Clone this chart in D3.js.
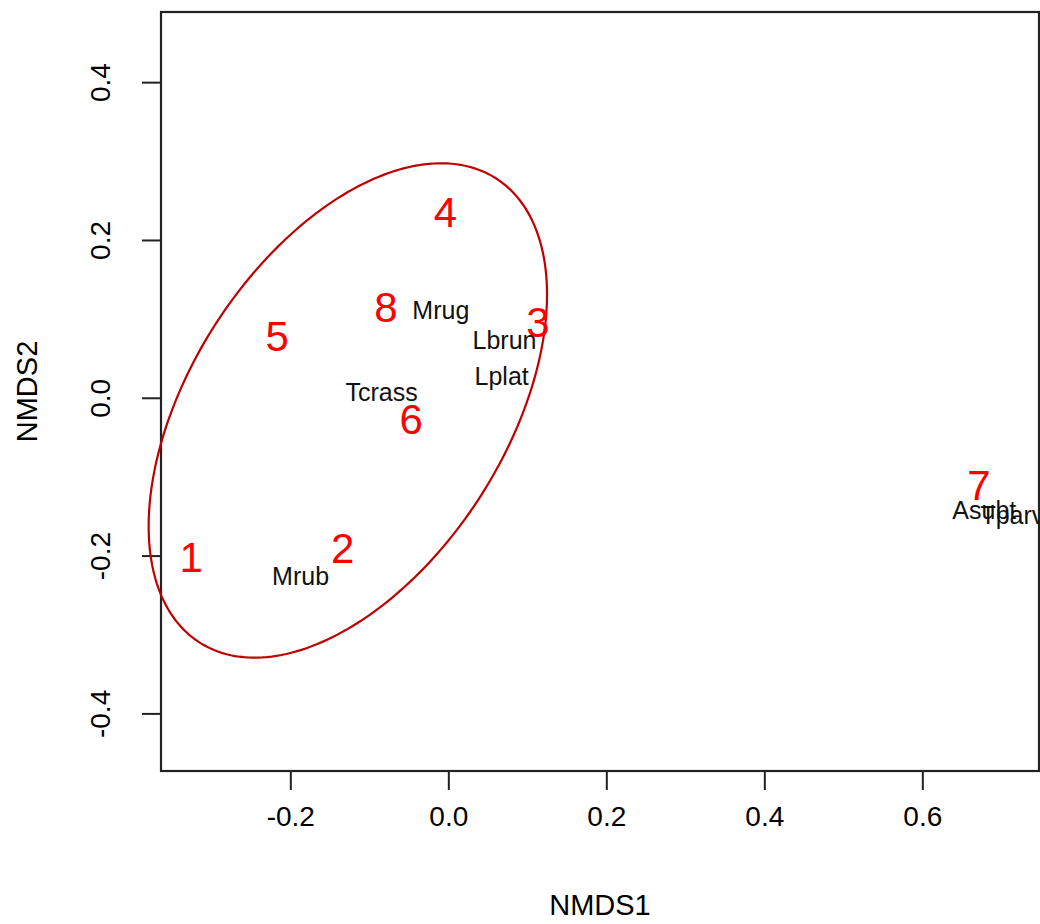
<!DOCTYPE html>
<html>
<head>
<meta charset="utf-8">
<script src="https://cdn.jsdelivr.net/npm/d3@7"></script>
<style>
  html, body { margin: 0; padding: 0; background: #fff; }
  text { font-family: "Liberation Sans", Arial, sans-serif; }
</style>
</head>
<body>
<svg id="chart" width="1040" height="924"></svg>
<script>
// Site scores (NMDS1, NMDS2)
const siteLabels = ["1", "2", "3", "4", "5", "6", "7", "8"];
const siteX = [-0.3256, -0.1338, 0.1133, -0.0038, -0.2165, -0.0471, 0.6717, -0.0789];
const siteY = [-0.2016, -0.1900, 0.0960, 0.2360, 0.0779, -0.0268, -0.1100, 0.1150];

// Species scores
const speciesLabels = ["Mrug", "Lbrun", "Lplat", "Tcrass", "Mrub", "Asubt", "Tparv"];
const speciesX = [-0.0095, 0.0711, 0.0675, -0.0844, -0.1870, 0.6785, 0.7140];
const speciesY = [0.1115, 0.0728, 0.0272, 0.0067, -0.2265, -0.1425, -0.1490];

// Group ellipse: centre and shape matrix [[sxx, sxy], [sxy, syy]]
const ellipseCenter = [-0.1272, -0.0161];
const ellipseShape = [[0.06358, 0.03701], [0.03701, 0.09815]];

// Axis ticks
const xTicks = [-0.2, 0.0, 0.2, 0.4, 0.6];
const yTicks = [-0.4, -0.2, 0.0, 0.2, 0.4];
const xDomain = [-0.3637, 0.7477];
const yDomain = [-0.4730, 0.4889];

const svg = d3.select("#chart");
const plot = { left: 161, right: 1039, top: 12, bottom: 771 };

const x = d3.scaleLinear().domain(xDomain).range([plot.left, plot.right]);
const y = d3.scaleLinear().domain(yDomain).range([plot.bottom, plot.top]);

// Tick labels with a plain hyphen for negatives
const fmt = v => d3.format(".1f")(v).replace("\u2212", "-");

// Clip labels to the plotting region
svg.append("defs").append("clipPath").attr("id", "plotClip")
  .append("rect")
  .attr("x", plot.left).attr("y", plot.top)
  .attr("width", plot.right - plot.left).attr("height", plot.bottom - plot.top);

// Bottom axis
const xAxis = d3.axisBottom(x).tickValues(xTicks).tickFormat(fmt).tickSize(19).tickPadding(16);
const gx = svg.append("g").attr("transform", `translate(0,${plot.bottom})`).call(xAxis);
gx.select(".domain").remove();
gx.selectAll("line").attr("stroke", "#222").attr("stroke-width", 2);
gx.selectAll("text").attr("font-size", 28).attr("fill", "#000")
  .attr("font-family", "Liberation Sans, Arial, sans-serif");

// Left axis (labels rotated, as in base graphics)
const yAxis = d3.axisLeft(y).tickValues(yTicks).tickFormat(fmt).tickSize(19).tickPadding(16);
const gy = svg.append("g").attr("transform", `translate(${plot.left},0)`).call(yAxis);
gy.select(".domain").remove();
gy.selectAll("line").attr("stroke", "#222").attr("stroke-width", 2);
gy.selectAll("text")
  .attr("font-size", 28).attr("fill", "#000")
  .attr("font-family", "Liberation Sans, Arial, sans-serif")
  .attr("text-anchor", "middle")
  .attr("x", null).attr("dy", null)
  .attr("transform", "translate(-61,0) rotate(-90)")
  .attr("y", 0)
  .attr("dominant-baseline", "central");

// Plot frame
svg.append("rect")
  .attr("x", plot.left).attr("y", plot.top)
  .attr("width", plot.right - plot.left).attr("height", plot.bottom - plot.top)
  .attr("fill", "none").attr("stroke", "#222").attr("stroke-width", 2.2);

// Axis titles
svg.append("text")
  .attr("x", (plot.left + plot.right) / 2).attr("y", 915)
  .attr("text-anchor", "middle").attr("font-size", 29).attr("fill", "#000")
  .text("NMDS1");
svg.append("text")
  .attr("transform", `translate(37,${(plot.top + plot.bottom) / 2}) rotate(-90)`)
  .attr("text-anchor", "middle").attr("font-size", 29).attr("fill", "#000")
  .text("NMDS2");

// Ellipse built from its centre and shape matrix (Cholesky factor); not clipped
const l11 = Math.sqrt(ellipseShape[0][0]);
const l21 = ellipseShape[0][1] / l11;
const l22 = Math.sqrt(ellipseShape[1][1] - l21 * l21);
const ellipsePts = d3.range(0, 241).map(i => {
  const t = (i / 240) * 2 * Math.PI;
  const c = Math.cos(t), s = Math.sin(t);
  return [ellipseCenter[0] + l11 * c, ellipseCenter[1] + l21 * c + l22 * s];
});
svg.append("path")
  .datum(ellipsePts)
  .attr("d", d3.line().x(d => x(d[0])).y(d => y(d[1])))
  .attr("fill", "none").attr("stroke", "#c00000").attr("stroke-width", 2.2);

const inner = svg.append("g").attr("clip-path", "url(#plotClip)");

// Species labels
inner.selectAll("text.species")
  .data(speciesLabels.map((t, i) => ({ t, x: speciesX[i], y: speciesY[i] })))
  .join("text").attr("class", "species")
  .attr("x", d => x(d.x)).attr("y", d => y(d.y))
  .attr("dy", "0.36em")
  .attr("text-anchor", "middle").attr("font-size", 25).attr("fill", "#111")
  .text(d => d.t);

// Site labels
inner.selectAll("text.site")
  .data(siteLabels.map((t, i) => ({ t, x: siteX[i], y: siteY[i] })))
  .join("text").attr("class", "site")
  .attr("x", d => x(d.x)).attr("y", d => y(d.y))
  .attr("dy", "0.36em")
  .attr("text-anchor", "middle").attr("font-size", 42).attr("fill", "#ff0000")
  .text(d => d.t);
</script>
</body>
</html>
